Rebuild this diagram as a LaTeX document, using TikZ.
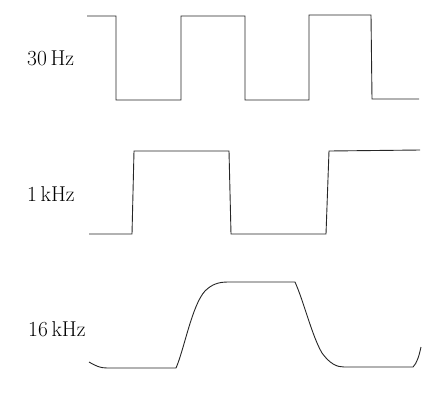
\documentclass[tikz,border=0pt]{standalone}
\begin{document}
\begin{tikzpicture}[x=1pt,y=-1pt,
  wave/.style={draw=black!85,line width=0.9pt,line join=miter},
  lbl/.style={anchor=west,inner sep=0pt,font=\fontsize{21.5}{25}\selectfont}]
\useasboundingbox (0,0) rectangle (447,392);
% 30 Hz
\node[lbl] (l30) at (27,58) {30\,Hz};
\draw[wave] (87,16) -- (116,16) -- (116,100) -- (181,100) -- (181,16) -- (245,16)
  -- (245,100) -- (309,100) -- (309,15) -- (371,15) -- (372,99) -- (419,99);
% 1 kHz
\node[lbl] (l1) at (27,194) {1\,kHz};
\draw[wave] (89,234) -- (132,234) -- (134,151) -- (229,151) -- (231,234) -- (326,234)
  -- (329,151) -- (420,150);
% 16 kHz
\node[lbl] (l16) at (28,329) {16\,kHz};
\draw[wave] (89,362) .. controls (96,366) and (100,368) .. (107,368) -- (176,368)
  .. controls (184,350) and (192,305) .. (205,291)
  .. controls (212,284) and (219,282) .. (228,282) -- (295,282)
  .. controls (304,302) and (312,336) .. (322,353)
  .. controls (330,364) and (337,367) .. (344,367) -- (413,367)
  .. controls (417,363) and (419,356) .. (421,347);
\end{tikzpicture}
\end{document}
